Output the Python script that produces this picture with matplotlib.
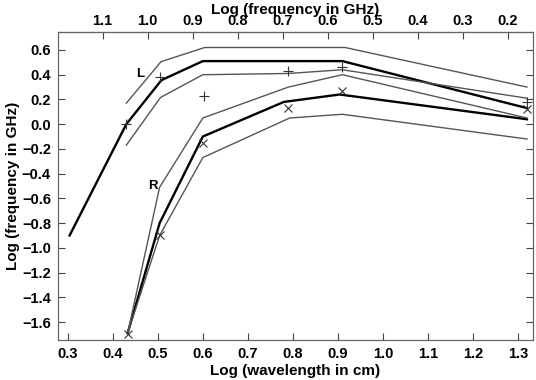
import numpy as np
import matplotlib
matplotlib.use('Agg')
import matplotlib.pyplot as plt

plt.rcParams['font.family'] = ['Liberation Sans', 'DejaVu Sans']
plt.rcParams['font.weight'] = 'bold'

# L component: model curve and envelope
L_x = [0.304, 0.43, 0.508, 0.60, 0.91, 1.32]
L_mid = [-0.90, 0.0, 0.356, 0.51, 0.51, 0.13]
L_up_x = [0.43, 0.507, 0.604, 0.916, 1.32]
L_up = [0.17, 0.505, 0.62, 0.62, 0.30]
L_lo_x = [0.43, 0.506, 0.60, 0.79, 0.91, 1.32]
L_lo = [-0.17, 0.216, 0.40, 0.41, 0.44, 0.21]

# R component: model curve and envelope
R_x = [0.433, 0.504, 0.60, 0.78, 0.904, 1.32]
R_mid = [-1.69, -0.80, -0.10, 0.18, 0.24, 0.04]
R_up_x = [0.433, 0.504, 0.60, 0.79, 0.91, 1.32]
R_up = [-1.69, -0.51, 0.05, 0.30, 0.40, 0.05]
R_lo_x = [0.433, 0.504, 0.60, 0.793, 0.91, 1.32]
R_lo = [-1.69, -0.90, -0.27, 0.05, 0.08, -0.12]

# measured points
plus_x = [0.43, 0.504, 0.603, 0.79, 0.91, 1.32]
plus_y = [0.005, 0.383, 0.23, 0.43, 0.46, 0.18]
cross_x = [0.433, 0.505, 0.60, 0.79, 0.91, 1.32]
cross_y = [-1.70, -0.90, -0.15, 0.13, 0.27, 0.12]

xticks = [0.3, 0.4, 0.5, 0.6, 0.7, 0.8, 0.9, 1.0, 1.1, 1.2, 1.3]
yticks = [0.6, 0.4, 0.2, 0.0, -0.2, -0.4, -0.6, -0.8, -1.0, -1.2, -1.4, -1.6]
ftop = [1.1, 1.0, 0.9, 0.8, 0.7, 0.6, 0.5, 0.4, 0.3, 0.2]
logc = np.log10(30.0)   # log f(GHz) = log(30) - log(lambda cm)

thin = '#555555'
fig = plt.figure(figsize=(5.36, 3.80), dpi=100)
ax = fig.add_axes([0.108, 0.105, 0.886, 0.811])

ax.plot(L_x, L_mid, color='black', lw=1.7)
ax.plot(L_up_x, L_up, color=thin, lw=1.0)
ax.plot(L_lo_x, L_lo, color=thin, lw=1.0)
ax.plot(R_x, R_mid, color='black', lw=1.7)
ax.plot(R_up_x, R_up, color=thin, lw=1.0)
ax.plot(R_lo_x, R_lo, color=thin, lw=1.0)
ax.plot(plus_x, plus_y, ls='none', marker='+', ms=7, mew=0.8, color='#333333')
ax.plot(cross_x, cross_y, ls='none', marker='x', ms=6, mew=0.8, color='#333333')

ax.text(0.46, 0.405, 'L', fontsize=9.5, fontweight='bold', ha='center', va='center')
ax.text(0.488, -0.50, 'R', fontsize=9.5, fontweight='bold', ha='center', va='center')

ax.set_xlim(0.278, 1.333)
ax.set_ylim(-1.746, 0.746)
ax.set_xticks(xticks)
ax.set_xticklabels(['%.1f' % v for v in xticks])
ax.set_yticks(yticks)
ax.set_yticklabels([('%.1f' % v).replace('-', '\u2212') for v in yticks])
ax.tick_params(direction='in', length=5, width=0.8, labelsize=10.5, colors='#444444',
               labelcolor='black', right=True, pad=5)
for s in ax.spines.values():
    s.set_color('#666666')
    s.set_linewidth(0.9)
ax.set_xlabel('Log (wavelength in cm)', fontsize=11, fontweight='bold', labelpad=2)
ax.set_ylabel('Log (frequency in GHz)', fontsize=11, fontweight='bold', labelpad=1)

top = ax.secondary_xaxis('top', functions=(lambda x: logc - x, lambda f: logc - f))
top.set_xticks(ftop)
top.set_xticklabels(['%.1f' % v for v in ftop])
top.tick_params(direction='in', length=5, width=0.8, labelsize=10.5, colors='#444444',
                labelcolor='black', pad=3)
top.spines['top'].set_color('#666666')
top.set_xlabel('Log (frequency in GHz)', fontsize=11, fontweight='bold', labelpad=0)

fig.savefig('out.png', dpi=100)
